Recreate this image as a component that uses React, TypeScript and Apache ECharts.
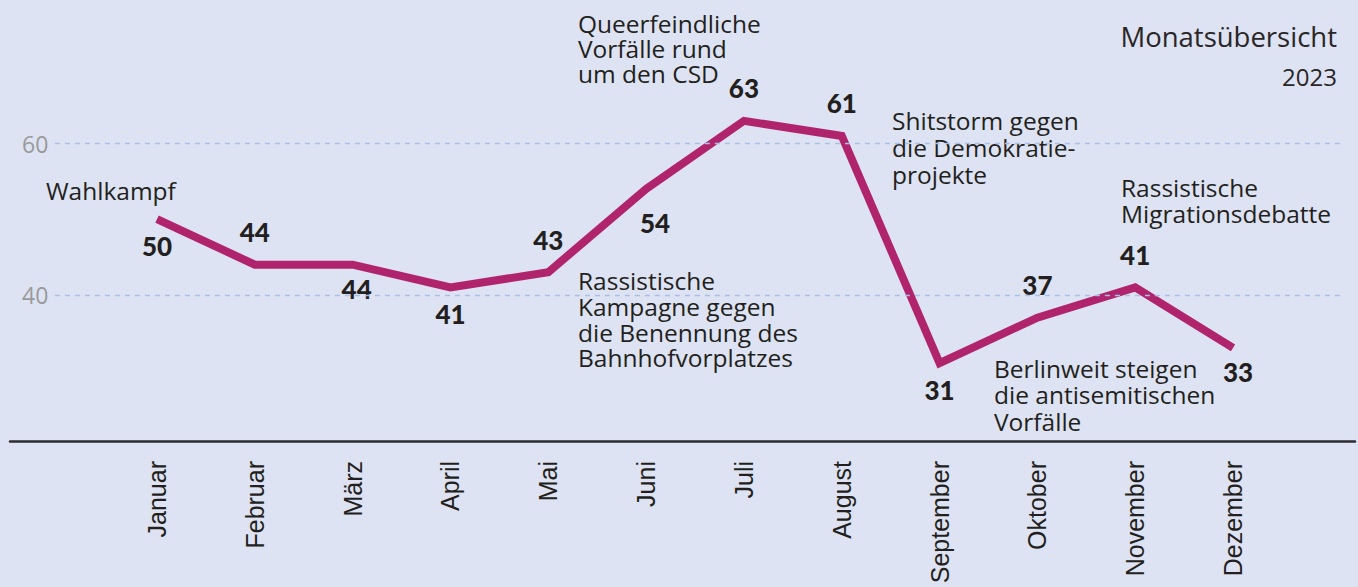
import React, { useEffect, useRef } from "react";
import * as echarts from "echarts";

// ---- data ----
const months = [
  "Januar", "Februar", "März", "April", "Mai", "Juni",
  "Juli", "August", "September", "Oktober", "November", "Dezember",
];
const incidents = [50, 44, 44, 41, 43, 54, 63, 61, 31, 37, 41, 33];
const labelSides = [
  "bottom", "top", "bottom", "bottom", "top", "bottom",
  "top", "top", "bottom", "top", "top", "bottom",
];
const yTickValues = [40, 60];
const titleText = "Monatsübersicht";
const yearText = "2023";
const annotationTexts = [
  "Wahlkampf",
  "Queerfeindliche\nVorfälle rund\num den CSD",
  "Rassistische\nKampagne gegen\ndie Benennung des\nBahnhofvorplatzes",
  "Shitstorm gegen\ndie Demokratie-\nprojekte",
  "Rassistische\nMigrationsdebatte",
  "Berlinweit steigen\ndie antisemitischen\nVorfälle",
];

// ---- styles / layout ----
const BG = "#dde3f2";
const LINE = "#b0246e";
const INK = "#231f20";
const GRID_DASH = "#a9bfe6";
const TEXT_FONT = '"Open Sans", "Noto Sans", sans-serif';
const NUM_FONT = 'Lato, "Open Sans", sans-serif';
const annotationLayout = [
  { x: 46, y: 177, lh: 26 },
  { x: 578, y: 11, lh: 25 },
  { x: 578, y: 268, lh: 25.7 },
  { x: 892, y: 107, lh: 27 },
  { x: 1121, y: 174, lh: 26 },
  { x: 994, y: 355, lh: 26.5 },
];
const labelNudges: Record<number, number[]> = { 5: [9, 8], 11: [5, -2], 2: [4, -2] };

export default function App() {
  const ref = useRef<HTMLDivElement>(null);

  useEffect(() => {
    if (!ref.current) return;
    const chart = echarts.init(ref.current, undefined, { renderer: "svg" });

    const data = incidents.map((v, i) => {
      const side = labelSides[i];
      return {
        value: [i, v],
        label: {
          position: side,
          distance: side === "top" ? 19 : 13,
          offset: labelNudges[i] || [0, 0],
        },
      };
    });

    const gridFrom = -1.044;
    const gridTo = 12.105;

    const graphic: any[] = annotationTexts.map((t, i) => ({
      type: "text",
      x: annotationLayout[i].x,
      y: annotationLayout[i].y,
      silent: true,
      style: {
        text: t,
        fill: INK,
        font: `24.5px ${TEXT_FONT}`,
        lineHeight: annotationLayout[i].lh,
        align: "left",
        textAlign: "left",
        verticalAlign: "top",
        textVerticalAlign: "top",
      },
    }));
    graphic.push({
      type: "text",
      x: 1337,
      y: 36,
      silent: true,
      style: {
        text: titleText,
        fill: "#2a2628",
        font: `27.5px ${TEXT_FONT}`,
        align: "right",
        textAlign: "right",
        verticalAlign: "middle",
        textVerticalAlign: "middle",
      },
    });
    graphic.push({
      type: "text",
      x: 1337,
      y: 76,
      silent: true,
      style: {
        text: yearText,
        fill: "#2a2628",
        font: `24px ${TEXT_FONT}`,
        align: "right",
        textAlign: "right",
        verticalAlign: "middle",
        textVerticalAlign: "middle",
      },
    });

    chart.setOption({
      animation: false,
      backgroundColor: BG,
      grid: { left: 10, right: 3, top: 30, bottom: 146, containLabel: false },
      xAxis: {
        type: "value",
        min: -1.503,
        max: 12.247,
        axisLine: {
          show: true,
          onZero: false,
          lineStyle: { color: "#2e2d33", width: 2.5 },
        },
        axisTick: { show: false },
        splitLine: { show: false },
        axisLabel: {
          customValues: months.map((_, i) => i),
          formatter: (v: number) => months[Math.round(v)] ?? "",
          rotate: 90,
          margin: 20,
          fontSize: 25,
          fontFamily: '"Liberation Sans", Arial, sans-serif',
          color: INK,
        },
      },
      yAxis: {
        type: "value",
        min: 20.7,
        max: 75,
        axisLine: { show: false },
        axisTick: { show: false },
        splitLine: { show: false },
        axisLabel: {
          customValues: yTickValues,
          inside: true,
          margin: 12,
          fontSize: 23,
          fontFamily: TEXT_FONT,
          color: "#9a9a9a",
        },
      },
      series: [
        {
          type: "line",
          data,
          symbol: "circle",
          symbolSize: 1,
          showSymbol: true,
          itemStyle: { color: "rgba(0,0,0,0)" },
          lineStyle: { color: LINE, width: 8, join: "miter", cap: "butt" },
          label: {
            show: true,
            formatter: (p: any) => String(p.value[1]),
            fontFamily: NUM_FONT,
            fontWeight: 900,
            fontSize: 26,
            color: INK,
          },
          markLine: {
            silent: true,
            symbol: "none",
            label: { show: false },
            lineStyle: { type: [5, 5], color: GRID_DASH, width: 1.3 },
            data: yTickValues.map((t) => [
              { coord: [gridFrom, t] },
              { coord: [gridTo, t] },
            ]),
          },
          z: 3,
        },
      ],
      graphic,
    });

    return () => chart.dispose();
  }, []);

  return (
    <div
      ref={ref}
      style={{ position: "fixed", left: 0, top: 0, width: 1358, height: 587 }}
    />
  );
}
